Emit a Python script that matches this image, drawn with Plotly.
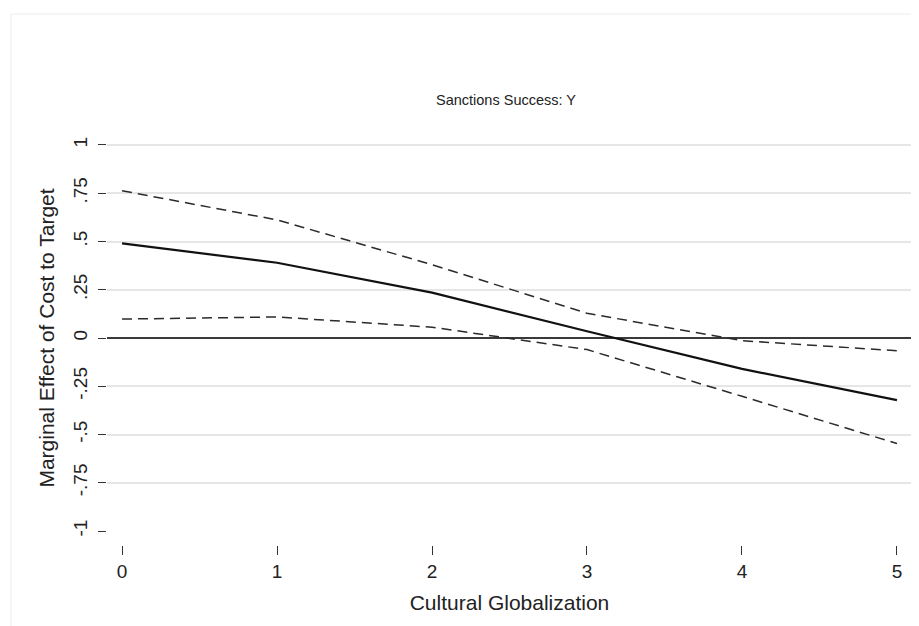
import plotly.graph_objects as go

# Data
globalization = [0, 1, 2, 3, 4, 5]
marginal_effect = [0.49, 0.39, 0.235, 0.035, -0.16, -0.322]
upper_ci = [0.763, 0.612, 0.38, 0.128, -0.014, -0.066]
lower_ci = [0.098, 0.109, 0.056, -0.06, -0.302, -0.547]

y_tick_vals = [-1, -0.75, -0.5, -0.25, 0, 0.25, 0.5, 0.75, 1]
y_tick_text = ["-1", "-.75", "-.5", "-.25", "0", ".25", ".5", ".75", "1"]
y_grid_vals = [-0.75, -0.5, -0.25, 0.25, 0.5, 0.75, 1]
x_tick_vals = [0, 1, 2, 3, 4, 5]

FONT = "Liberation Sans, Arial, sans-serif"

fig = go.Figure()

fig.add_trace(go.Scatter(x=[None], y=[None], yaxis="y2", showlegend=False,
                         hoverinfo="skip", mode="lines"))

fig.add_trace(go.Scatter(x=globalization, y=upper_ci, mode="lines",
                         line=dict(color="#2a2a2a", width=1.5, dash="10px,6px"),
                         showlegend=False))
fig.add_trace(go.Scatter(x=globalization, y=lower_ci, mode="lines",
                         line=dict(color="#2a2a2a", width=1.5, dash="10px,6px"),
                         showlegend=False))
fig.add_trace(go.Scatter(x=globalization, y=marginal_effect, mode="lines",
                         line=dict(color="#111111", width=2.2),
                         showlegend=False))

y_range = [-1.0725, 1.0725]

fig.update_layout(
    width=911, height=618,
    margin=dict(l=99, r=7, t=123, b=81, pad=0),
    paper_bgcolor="white", plot_bgcolor="white",
    font=dict(family=FONT, color="#222222"),
    xaxis=dict(
        range=[-0.097, 5.097], tickvals=x_tick_vals,
        ticks="outside", ticklen=9, tickwidth=1.2, tickcolor="#333333",
        showgrid=False, zeroline=False, showline=False,
        tickfont=dict(size=19, family=FONT, color="#222222"),
        ticklabelstandoff=0,
        title=dict(text="Cultural Globalization", standoff=14,
                   font=dict(size=21, family=FONT, color="#222222")),
    ),
    yaxis=dict(
        range=y_range, tickvals=y_tick_vals, ticktext=y_tick_text,
        tickangle=-90,
        ticks="outside", ticklen=8, tickwidth=1.2, tickcolor="#333333",
        showgrid=False, showline=False,
        zeroline=True, zerolinecolor="#3a3a3a", zerolinewidth=1.8,
        tickfont=dict(size=19, family=FONT, color="#222222"),
        ticklabelstandoff=3,
        title=dict(text="Marginal Effect of Cost to Target", standoff=10,
                   font=dict(size=21, family=FONT, color="#222222")),
    ),
    yaxis2=dict(
        range=y_range, overlaying="y", side="left",
        tickvals=y_grid_vals, showticklabels=False, ticks="",
        showgrid=True, gridcolor="#e6e6e6", gridwidth=1.5,
        zeroline=False, showline=False,
    ),
    annotations=[
        dict(text="Sanctions Success: Y", xref="paper", yref="paper",
             x=0.4962, y=1.0749, xanchor="center", yanchor="middle",
             showarrow=False, font=dict(size=14.5, family=FONT, color="#222222")),
    ],
    shapes=[
        dict(type="rect", xref="paper", yref="paper",
             x0=-0.1193, x1=1.02, y0=-0.22, y1=1.2826,
             line=dict(color="#ececec", width=1), fillcolor="rgba(0,0,0,0)",
             layer="below"),
    ],
)

fig.write_html("out.html")
